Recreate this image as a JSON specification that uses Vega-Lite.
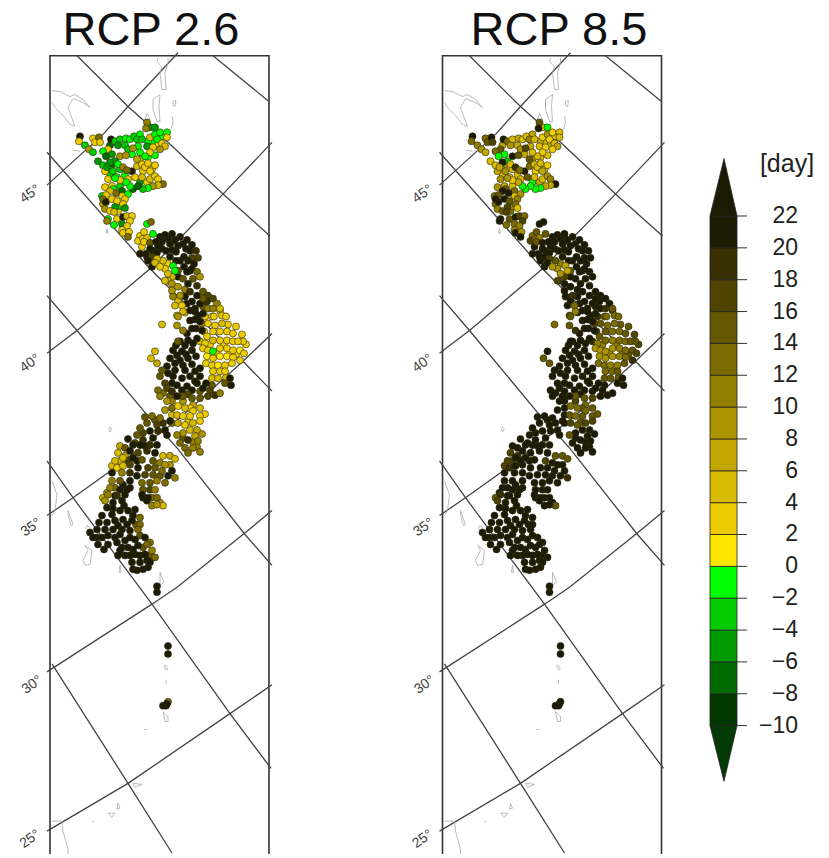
{"$schema":"https://vega.github.io/schema/vega-lite/v6.json","width":829,"height":858,"padding":0,"autosize":{"type":"fit","contains":"padding"},"background":"white","config":{"view":{"stroke":null},"text":{"font":"Liberation Sans"}},
"datasets":{
"frame":[{"i":0,"x":50,"y":858},{"i":1,"x":50,"y":56},{"i":2,"x":269,"y":56},{"i":3,"x":269,"y":858}],
"grat":[
{"id":"L1","i":0,"x":77,"y":56},{"id":"L1","i":1,"x":128,"y":107},{"id":"L1","i":2,"x":168,"y":143},{"id":"L1","i":3,"x":223,"y":195},{"id":"L1","i":4,"x":270,"y":237},
{"id":"L2","i":0,"x":213,"y":56},{"id":"L2","i":1,"x":269,"y":102},
{"id":"L3","i":0,"x":47,"y":153},{"id":"L3","i":1,"x":150,"y":270},{"id":"L3","i":2,"x":243,"y":363},{"id":"L3","i":3,"x":272,"y":393},
{"id":"L4","i":0,"x":47,"y":297},{"id":"L4","i":1,"x":77,"y":332},{"id":"L4","i":2,"x":148,"y":418},{"id":"L4","i":3,"x":177,"y":450},{"id":"L4","i":4,"x":245,"y":537},{"id":"L4","i":5,"x":272,"y":568},
{"id":"L5","i":0,"x":47,"y":463},{"id":"L5","i":1,"x":73,"y":500},{"id":"L5","i":2,"x":112,"y":553},{"id":"L5","i":3,"x":152,"y":607},{"id":"L5","i":4,"x":230,"y":717},{"id":"L5","i":5,"x":271,"y":772},
{"id":"L6","i":0,"x":52,"y":667},{"id":"L6","i":1,"x":128,"y":787},{"id":"L6","i":2,"x":172,"y":857},
{"id":"P1","i":0,"x":47,"y":186},{"id":"P1","i":1,"x":103,"y":135},{"id":"P1","i":2,"x":128,"y":107},{"id":"P1","i":3,"x":178,"y":53},
{"id":"P2","i":0,"x":47,"y":355},{"id":"P2","i":1,"x":77,"y":332},{"id":"P2","i":2,"x":103,"y":310},{"id":"P2","i":3,"x":150,"y":270},{"id":"P2","i":4,"x":223,"y":195},{"id":"P2","i":5,"x":272,"y":143},
{"id":"P3","i":0,"x":47,"y":518},{"id":"P3","i":1,"x":73,"y":500},{"id":"P3","i":2,"x":108,"y":475},{"id":"P3","i":3,"x":180,"y":420},{"id":"P3","i":4,"x":243,"y":363},{"id":"P3","i":5,"x":272,"y":335},
{"id":"P4","i":0,"x":47,"y":675},{"id":"P4","i":1,"x":152,"y":607},{"id":"P4","i":2,"x":177,"y":590},{"id":"P4","i":3,"x":243,"y":537},{"id":"P4","i":4,"x":272,"y":513},
{"id":"P5","i":0,"x":47,"y":835},{"id":"P5","i":1,"x":128,"y":787},{"id":"P5","i":2,"x":230,"y":717},{"id":"P5","i":3,"x":272,"y":688}],
"coast":[
{"id":"c1","i":0,"x":52,"y":91},{"id":"c1","i":1,"x":60,"y":92},{"id":"c1","i":2,"x":70,"y":97},{"id":"c1","i":3,"x":75,"y":95},{"id":"c1","i":4,"x":83,"y":100},{"id":"c1","i":5,"x":90,"y":108},{"id":"c1","i":6,"x":83,"y":103},{"id":"c1","i":7,"x":73,"y":99},{"id":"c1","i":8,"x":68,"y":108},{"id":"c1","i":9,"x":75,"y":127},{"id":"c1","i":10,"x":70,"y":125},{"id":"c1","i":11,"x":63,"y":116},{"id":"c1","i":12,"x":55,"y":108},{"id":"c1","i":13,"x":52,"y":103},
{"id":"c2","i":0,"x":158,"y":58},{"id":"c2","i":1,"x":157,"y":62},{"id":"c2","i":2,"x":162,"y":67},{"id":"c2","i":3,"x":160,"y":73},{"id":"c2","i":4,"x":162,"y":90},{"id":"c2","i":5,"x":166,"y":90},{"id":"c2","i":6,"x":165,"y":73},{"id":"c2","i":7,"x":168,"y":63},{"id":"c2","i":8,"x":168,"y":58},
{"id":"c3","i":0,"x":153,"y":100},{"id":"c3","i":1,"x":160,"y":95},{"id":"c3","i":2,"x":159,"y":107},{"id":"c3","i":3,"x":160,"y":122},{"id":"c3","i":4,"x":157,"y":122},{"id":"c3","i":5,"x":153,"y":110},{"id":"c3","i":6,"x":153,"y":100},
{"id":"c4","i":0,"x":173,"y":102},{"id":"c4","i":1,"x":176,"y":101},{"id":"c4","i":2,"x":175,"y":107},{"id":"c4","i":3,"x":173,"y":106},{"id":"c4","i":4,"x":173,"y":102},
{"id":"c5","i":0,"x":172,"y":117},{"id":"c5","i":1,"x":173,"y":123},{"id":"c5","i":2,"x":171,"y":130},
{"id":"c6","i":0,"x":147,"y":114},{"id":"c6","i":1,"x":150,"y":120},{"id":"c6","i":2,"x":145,"y":120},{"id":"c6","i":3,"x":147,"y":114},
{"id":"c7","i":0,"x":73,"y":151},{"id":"c7","i":1,"x":80,"y":152},
{"id":"c8","i":0,"x":107,"y":230},{"id":"c8","i":1,"x":108,"y":234},{"id":"c8","i":2,"x":106,"y":234},{"id":"c8","i":3,"x":107,"y":230},
{"id":"c9","i":0,"x":52,"y":483},{"id":"c9","i":1,"x":57,"y":497},{"id":"c9","i":2,"x":55,"y":513},{"id":"c9","i":3,"x":52,"y":518},
{"id":"c10","i":0,"x":68,"y":513},{"id":"c10","i":1,"x":73,"y":527},{"id":"c10","i":2,"x":71,"y":528},{"id":"c10","i":3,"x":68,"y":517},{"id":"c10","i":4,"x":68,"y":513},
{"id":"c11","i":0,"x":87,"y":528},{"id":"c11","i":1,"x":90,"y":530},{"id":"c11","i":2,"x":88,"y":533},{"id":"c11","i":3,"x":86,"y":531},{"id":"c11","i":4,"x":87,"y":528},
{"id":"c12","i":0,"x":85,"y":548},{"id":"c12","i":1,"x":92,"y":553},{"id":"c12","i":2,"x":90,"y":567},{"id":"c12","i":3,"x":85,"y":568},{"id":"c12","i":4,"x":83,"y":563},{"id":"c12","i":5,"x":88,"y":553},{"id":"c12","i":6,"x":85,"y":548},
{"id":"c13","i":0,"x":110,"y":429},{"id":"c13","i":1,"x":112,"y":431},{"id":"c13","i":2,"x":110,"y":434},{"id":"c13","i":3,"x":109,"y":431},{"id":"c13","i":4,"x":110,"y":429},
{"id":"c14","i":0,"x":120,"y":568},{"id":"c14","i":1,"x":121,"y":575},{"id":"c14","i":2,"x":119,"y":575},{"id":"c14","i":3,"x":120,"y":568},
{"id":"c15","i":0,"x":160,"y":575},{"id":"c15","i":1,"x":164,"y":585},{"id":"c15","i":2,"x":160,"y":588},{"id":"c15","i":3,"x":160,"y":575},
{"id":"c16","i":0,"x":165,"y":668},{"id":"c16","i":1,"x":168,"y":672},{"id":"c16","i":2,"x":166,"y":673},{"id":"c16","i":3,"x":164,"y":670},{"id":"c16","i":4,"x":165,"y":668},
{"id":"c17","i":0,"x":166,"y":683},{"id":"c17","i":1,"x":166,"y":687},
{"id":"c18","i":0,"x":163,"y":715},{"id":"c18","i":1,"x":168,"y":720},{"id":"c18","i":2,"x":168,"y":725},{"id":"c18","i":3,"x":165,"y":725},{"id":"c18","i":4,"x":163,"y":715},
{"id":"c19","i":0,"x":133,"y":787},{"id":"c19","i":1,"x":142,"y":788},{"id":"c19","i":2,"x":135,"y":791},{"id":"c19","i":3,"x":133,"y":787},
{"id":"c20","i":0,"x":108,"y":817},{"id":"c20","i":1,"x":115,"y":817},{"id":"c20","i":2,"x":112,"y":821},{"id":"c20","i":3,"x":108,"y":817},
{"id":"c21","i":0,"x":118,"y":807},{"id":"c21","i":1,"x":120,"y":812},{"id":"c21","i":2,"x":117,"y":813},{"id":"c21","i":3,"x":118,"y":807},
{"id":"c22","i":0,"x":52,"y":825},{"id":"c22","i":1,"x":62,"y":825},{"id":"c22","i":2,"x":63,"y":835},{"id":"c22","i":3,"x":68,"y":853},{"id":"c22","i":4,"x":68,"y":858},
{"id":"c23","i":0,"x":144,"y":733},{"id":"c23","i":1,"x":147,"y":733},
{"id":"c24","i":0,"x":92,"y":826},{"id":"c24","i":1,"x":94,"y":825}],
"deg":[{"x":30,"y":195,"t":"45°"},{"x":30,"y":365,"t":"40°"},{"x":31,"y":530,"t":"35°"},{"x":32,"y":688,"t":"30°"},{"x":30,"y":843,"t":"25°"}],
"titles":[{"x":151,"y":31,"t":"RCP 2.6"},{"x":559,"y":31,"t":"RCP 8.5"}],
"unit":[{"x":787,"y":165,"t":"[day]"}],
"bar":[{"lo":-10,"hi":-8},{"lo":-8,"hi":-6},{"lo":-6,"hi":-4},{"lo":-4,"hi":-2},{"lo":-2,"hi":0},{"lo":0,"hi":2},{"lo":2,"hi":4},{"lo":4,"hi":6},{"lo":6,"hi":8},{"lo":8,"hi":10},{"lo":10,"hi":12},{"lo":12,"hi":14},{"lo":14,"hi":16},{"lo":16,"hi":18},{"lo":18,"hi":20},{"lo":20,"hi":22}],
"tips":[{"x":710,"c":23,"y1":22,"y2":22},{"x":724,"c":23,"y1":25.6,"y2":22},{"x":737,"c":23,"y1":22,"y2":22},{"x":710,"c":-11,"y1":-10,"y2":-10},{"x":724,"c":-11,"y1":-13.5,"y2":-10},{"x":737,"c":-11,"y1":-10,"y2":-10}],
"ticks":[{"v":22,"t":"22"},{"v":20,"t":"20"},{"v":18,"t":"18"},{"v":16,"t":"16"},{"v":14,"t":"14"},{"v":12,"t":"12"},{"v":10,"t":"10"},{"v":8,"t":"8"},{"v":6,"t":"6"},{"v":4,"t":"4"},{"v":2,"t":"2"},{"v":0,"t":"0"},{"v":-2,"t":"−2"},{"v":-4,"t":"−4"},{"v":-6,"t":"−6"},{"v":-8,"t":"−8"},{"v":-10,"t":"−10"}],
"st":[
{"x":110,"y":146,"a":-7,"b":6},{"x":125,"y":146,"a":-3,"b":6},{"x":128,"y":150,"a":-3,"b":8},{"x":138,"y":147,"a":-2,"b":6},{"x":152,"y":143,"a":-1,"b":5},{"x":158,"y":146,"a":3,"b":6},{"x":113,"y":165,"a":-7,"b":8},{"x":120,"y":170,"a":-3,"b":5},{"x":110,"y":175,"a":-3,"b":4},{"x":117,"y":178,"a":-2,"b":5},{"x":125,"y":176,"a":-1,"b":4},{"x":112,"y":187,"a":3,"b":6},{"x":128,"y":180,"a":3,"b":4},{"x":140,"y":183,"a":-6,"b":-2},{"x":147,"y":183,"a":3,"b":6},{"x":150,"y":180,"a":5,"b":5},{"x":143,"y":172,"a":3,"b":3},{"x":142,"y":178,"a":4,"b":5},{"x":132,"y":155,"a":-2,"b":6},{"x":140,"y":160,"a":4,"b":8},{"x":148,"y":158,"a":-2,"b":4},{"x":152,"y":170,"a":3,"b":4},{"x":148,"y":142,"a":-1,"b":6},{"x":162,"y":137,"a":-1,"b":4},{"x":150,"y":128,"a":-6,"b":5},{"x":105,"y":188,"a":3,"b":8},{"x":113,"y":190,"a":-2,"b":14},{"x":103,"y":205,"a":8,"b":12},{"x":118,"y":212,"a":3,"b":12},{"x":120,"y":207,"a":-3,"b":8},
{"x":80,"y":137,"a":22,"b":22},{"x":79,"y":142,"a":3,"b":13},{"x":85,"y":146,"a":-3,"b":10},{"x":89,"y":150,"a":8,"b":9},{"x":93,"y":139,"a":3,"b":12},{"x":95,"y":143,"a":3,"b":14},{"x":99,"y":138,"a":12,"b":20},{"x":100,"y":143,"a":3,"b":16},{"x":93,"y":153,"a":-3,"b":6},{"x":98,"y":162,"a":-5,"b":5},{"x":103,"y":166,"a":-3,"b":5},{"x":105,"y":172,"a":2,"b":7},{"x":108,"y":180,"a":2,"b":8},{"x":111,"y":140,"a":22,"b":22},{"x":115,"y":142,"a":-4,"b":12},{"x":120,"y":140,"a":-3,"b":4},{"x":126,"y":139,"a":-2,"b":6},{"x":118,"y":146,"a":-5,"b":8},{"x":130,"y":140,"a":-2,"b":5},{"x":134,"y":137,"a":-3,"b":4},{"x":140,"y":135,"a":-2,"b":6},{"x":137,"y":140,"a":-3,"b":10},{"x":142,"y":140,"a":-4,"b":5},{"x":147,"y":123,"a":10,"b":14},{"x":146,"y":129,"a":10,"b":22},{"x":155,"y":128,"a":-6,"b":-1},{"x":150,"y":138,"a":5,"b":3},{"x":155,"y":135,"a":-1,"b":8},{"x":160,"y":133,"a":-1,"b":3},{"x":167,"y":133,"a":-1,"b":5},{"x":167,"y":138,"a":3,"b":4},{"x":157,"y":140,"a":-2,"b":3},{"x":162,"y":144,"a":3,"b":5},{"x":165,"y":147,"a":4,"b":7},{"x":147,"y":147,"a":-6,"b":4},{"x":153,"y":148,"a":3,"b":3},{"x":160,"y":150,"a":8,"b":3},{"x":155,"y":156,"a":-2,"b":4},{"x":150,"y":153,"a":3,"b":3},{"x":145,"y":157,"a":-1,"b":4},{"x":140,"y":153,"a":-1,"b":5},{"x":133,"y":149,"a":8,"b":16},{"x":108,"y":150,"a":3,"b":14},{"x":103,"y":152,"a":-2,"b":12},{"x":112,"y":155,"a":-6,"b":-2},{"x":106,"y":157,"a":-8,"b":-1},{"x":120,"y":157,"a":9,"b":22},{"x":126,"y":156,"a":8,"b":15},{"x":115,"y":162,"a":-5,"b":-3},{"x":110,"y":163,"a":-6,"b":22},{"x":118,"y":165,"a":-1,"b":4},{"x":123,"y":168,"a":10,"b":18},{"x":107,"y":168,"a":-5,"b":6},{"x":113,"y":172,"a":-3,"b":8},{"x":132,"y":172,"a":22,"b":22},{"x":127,"y":171,"a":12,"b":13},{"x":137,"y":167,"a":4,"b":12},{"x":137,"y":160,"a":6,"b":14},{"x":142,"y":165,"a":3,"b":4},{"x":145,"y":168,"a":3,"b":4},{"x":148,"y":164,"a":3,"b":4},{"x":155,"y":166,"a":3,"b":3},{"x":150,"y":172,"a":3,"b":6},{"x":155,"y":177,"a":3,"b":8},{"x":158,"y":180,"a":3,"b":10},{"x":163,"y":185,"a":12,"b":22},{"x":158,"y":186,"a":5,"b":6},{"x":153,"y":187,"a":8,"b":6},{"x":148,"y":189,"a":-1,"b":-1},{"x":143,"y":190,"a":-3,"b":-1},{"x":138,"y":187,"a":-7,"b":-1},{"x":133,"y":190,"a":-7,"b":-1},{"x":130,"y":187,"a":-2,"b":-2},{"x":135,"y":178,"a":3,"b":14},{"x":126,"y":183,"a":-1,"b":6},{"x":120,"y":187,"a":-4,"b":4},{"x":120,"y":181,"a":3,"b":3},{"x":115,"y":179,"a":-2,"b":8},{"x":122,"y":192,"a":-7,"b":13},{"x":128,"y":195,"a":-2,"b":8},{"x":122,"y":197,"a":3,"b":5},{"x":116,"y":194,"a":12,"b":22},{"x":110,"y":192,"a":5,"b":20},{"x":102,"y":197,"a":-3,"b":12},{"x":106,"y":196,"a":3,"b":14},{"x":103,"y":200,"a":12,"b":22},{"x":106,"y":203,"a":22,"b":22},{"x":112,"y":200,"a":3,"b":20},{"x":117,"y":202,"a":3,"b":14},{"x":125,"y":200,"a":3,"b":10},{"x":123,"y":205,"a":3,"b":12},{"x":115,"y":208,"a":-5,"b":16},{"x":125,"y":209,"a":-6,"b":5},{"x":105,"y":210,"a":9,"b":10},{"x":110,"y":212,"a":3,"b":14},{"x":114,"y":213,"a":4,"b":16},
{"x":108,"y":220,"a":-2,"b":22},{"x":107,"y":222,"a":10,"b":20},{"x":117,"y":220,"a":3,"b":14},{"x":123,"y":218,"a":22,"b":22},{"x":127,"y":217,"a":5,"b":16},{"x":132,"y":217,"a":3,"b":12},{"x":130,"y":222,"a":3,"b":16},{"x":114,"y":226,"a":-2,"b":12},{"x":122,"y":225,"a":-5,"b":12},{"x":127,"y":227,"a":3,"b":10},{"x":122,"y":231,"a":3,"b":10},{"x":123,"y":234,"a":3,"b":22},{"x":129,"y":233,"a":3,"b":8},{"x":128,"y":238,"a":12,"b":22},
{"x":147,"y":225,"a":-1,"b":22},{"x":151,"y":223,"a":12,"b":20},{"x":153,"y":235,"a":-1,"b":14},{"x":140,"y":237,"a":3,"b":12},{"x":144,"y":233,"a":3,"b":14},{"x":138,"y":242,"a":3,"b":16},{"x":143,"y":240,"a":3,"b":12},{"x":147,"y":239,"a":4,"b":10},{"x":142,"y":248,"a":3,"b":22},{"x":144,"y":243,"a":3,"b":14},
{"x":160,"y":238,"a":22,"b":22},{"x":168,"y":240,"a":22,"b":22},{"x":175,"y":241,"a":22,"b":22},{"x":183,"y":245,"a":20,"b":22},{"x":190,"y":252,"a":22,"b":22},{"x":192,"y":259,"a":16,"b":22},{"x":188,"y":262,"a":22,"b":22},{"x":180,"y":262,"a":22,"b":22},{"x":166,"y":252,"a":22,"b":22},{"x":172,"y":251,"a":20,"b":22},{"x":158,"y":247,"a":22,"b":22},{"x":153,"y":252,"a":20,"b":22},{"x":146,"y":255,"a":22,"b":22},{"x":150,"y":244,"a":14,"b":22},{"x":140,"y":255,"a":22,"b":22},{"x":152,"y":268,"a":22,"b":22},{"x":147,"y":258,"a":20,"b":22},
{"x":165,"y":236,"a":22,"b":22},{"x":172,"y":235,"a":21,"b":22},{"x":180,"y":238,"a":22,"b":22},{"x":187,"y":241,"a":21,"b":22},{"x":192,"y":246,"a":20,"b":22},{"x":196,"y":252,"a":18,"b":22},{"x":198,"y":259,"a":17,"b":22},{"x":194,"y":265,"a":21,"b":22},{"x":190,"y":272,"a":22,"b":22},{"x":184,"y":268,"a":22,"b":22},{"x":176,"y":262,"a":20,"b":22},{"x":170,"y":258,"a":22,"b":22},{"x":162,"y":250,"a":22,"b":22},{"x":157,"y":254,"a":20,"b":22},{"x":152,"y":258,"a":16,"b":22},{"x":148,"y":262,"a":22,"b":22},{"x":170,"y":245,"a":21,"b":22},{"x":178,"y":247,"a":22,"b":22},{"x":186,"y":250,"a":22,"b":22},{"x":184,"y":258,"a":22,"b":22},{"x":176,"y":253,"a":22,"b":22},{"x":162,"y":243,"a":20,"b":22},{"x":156,"y":243,"a":22,"b":22},{"x":150,"y":250,"a":22,"b":22},
{"x":168,"y":265,"a":3,"b":10},{"x":163,"y":262,"a":4,"b":14},{"x":178,"y":278,"a":20,"b":22},{"x":183,"y":280,"a":14,"b":22},{"x":172,"y":278,"a":5,"b":16},{"x":168,"y":282,"a":5,"b":14},{"x":178,"y":272,"a":14,"b":14},{"x":185,"y":291,"a":10,"b":22},{"x":190,"y":293,"a":18,"b":22},{"x":185,"y":298,"a":22,"b":22},{"x":187,"y":305,"a":22,"b":22},{"x":178,"y":302,"a":5,"b":20},{"x":185,"y":314,"a":5,"b":22},{"x":190,"y":312,"a":22,"b":22},{"x":203,"y":308,"a":14,"b":22},{"x":208,"y":310,"a":10,"b":20},{"x":205,"y":318,"a":3,"b":18},{"x":212,"y":318,"a":3,"b":14},{"x":200,"y":305,"a":22,"b":22},
{"x":173,"y":267,"a":-1,"b":6},{"x":175,"y":272,"a":-1,"b":6},{"x":157,"y":260,"a":4,"b":16},{"x":155,"y":264,"a":4,"b":20},{"x":165,"y":270,"a":3,"b":8},{"x":160,"y":268,"a":3,"b":9},{"x":168,"y":275,"a":4,"b":9},{"x":165,"y":282,"a":5,"b":16},{"x":172,"y":285,"a":9,"b":20},{"x":172,"y":292,"a":8,"b":20},{"x":178,"y":288,"a":8,"b":22},{"x":180,"y":297,"a":9,"b":18},{"x":173,"y":298,"a":10,"b":22},{"x":175,"y":307,"a":4,"b":22},{"x":182,"y":307,"a":3,"b":12},{"x":183,"y":313,"a":4,"b":10},{"x":177,"y":317,"a":4,"b":14},
{"x":187,"y":273,"a":20,"b":22},{"x":192,"y":270,"a":22,"b":22},{"x":197,"y":273,"a":13,"b":22},{"x":200,"y":278,"a":9,"b":22},{"x":193,"y":280,"a":14,"b":22},{"x":188,"y":285,"a":21,"b":22},{"x":197,"y":287,"a":18,"b":22},{"x":203,"y":293,"a":14,"b":22},{"x":208,"y":297,"a":17,"b":22},{"x":213,"y":300,"a":16,"b":22},{"x":217,"y":305,"a":10,"b":22},{"x":220,"y":312,"a":4,"b":16},{"x":222,"y":317,"a":3,"b":12},{"x":207,"y":303,"a":19,"b":22},{"x":213,"y":310,"a":10,"b":18},{"x":203,"y":300,"a":14,"b":22},{"x":197,"y":297,"a":22,"b":22},{"x":192,"y":303,"a":22,"b":22},{"x":195,"y":310,"a":22,"b":22},{"x":198,"y":317,"a":22,"b":22},
{"x":214,"y":318,"a":3,"b":13},{"x":226,"y":318,"a":3,"b":12},{"x":228,"y":326,"a":3,"b":14},{"x":236,"y":328,"a":3,"b":14},{"x":202,"y":325,"a":10,"b":16},{"x":226,"y":379,"a":4,"b":14},{"x":200,"y":343,"a":5,"b":18},{"x":204,"y":333,"a":3,"b":16},{"x":246,"y":346,"a":2,"b":16},{"x":243,"y":343,"a":2,"b":14},{"x":210,"y":346,"a":3,"b":10},{"x":224,"y":346,"a":2,"b":10},{"x":217,"y":355,"a":2,"b":8},{"x":230,"y":355,"a":2,"b":10},{"x":236,"y":356,"a":3,"b":14},{"x":206,"y":365,"a":3,"b":12},{"x":205,"y":345,"a":3,"b":10},
{"x":220,"y":310,"a":4,"b":14},{"x":208,"y":325,"a":3,"b":14},{"x":215,"y":327,"a":3,"b":13},{"x":222,"y":325,"a":4,"b":12},{"x":213,"y":333,"a":3,"b":14},{"x":220,"y":333,"a":3,"b":12},{"x":227,"y":333,"a":2,"b":13},{"x":233,"y":335,"a":3,"b":14},{"x":242,"y":336,"a":2,"b":16},{"x":207,"y":338,"a":3,"b":15},{"x":213,"y":342,"a":4,"b":12},{"x":220,"y":342,"a":3,"b":11},{"x":227,"y":342,"a":2,"b":12},{"x":233,"y":343,"a":2,"b":13},{"x":238,"y":343,"a":2,"b":14},{"x":203,"y":350,"a":2,"b":9},{"x":208,"y":352,"a":2,"b":8},{"x":220,"y":350,"a":2,"b":9},{"x":227,"y":350,"a":2,"b":10},{"x":233,"y":352,"a":2,"b":12},{"x":240,"y":352,"a":1,"b":14},{"x":244,"y":355,"a":2,"b":16},{"x":207,"y":358,"a":1,"b":9},{"x":213,"y":360,"a":2,"b":9},{"x":220,"y":358,"a":1,"b":8},{"x":227,"y":358,"a":1,"b":11},{"x":233,"y":359,"a":2,"b":12},{"x":240,"y":362,"a":2,"b":18},{"x":212,"y":367,"a":3,"b":12},{"x":218,"y":367,"a":1,"b":11},{"x":225,"y":367,"a":2,"b":10},{"x":232,"y":365,"a":3,"b":14},{"x":213,"y":373,"a":3,"b":13},{"x":220,"y":373,"a":2,"b":12},{"x":225,"y":373,"a":3,"b":14},{"x":212,"y":380,"a":5,"b":14},{"x":218,"y":380,"a":4,"b":14},{"x":212,"y":387,"a":14,"b":20},{"x":213,"y":353,"a":-1,"b":8},
{"x":195,"y":321,"a":22,"b":22},{"x":196,"y":330,"a":22,"b":22},{"x":187,"y":335,"a":22,"b":22},{"x":193,"y":345,"a":22,"b":22},{"x":176,"y":347,"a":22,"b":22},{"x":185,"y":347,"a":22,"b":22},{"x":177,"y":357,"a":22,"b":22},{"x":186,"y":356,"a":22,"b":22},{"x":196,"y":358,"a":20,"b":22},{"x":175,"y":365,"a":22,"b":22},{"x":183,"y":367,"a":22,"b":22},{"x":192,"y":366,"a":22,"b":22},{"x":200,"y":370,"a":22,"b":22},{"x":168,"y":375,"a":22,"b":22},{"x":195,"y":383,"a":22,"b":22},{"x":206,"y":385,"a":22,"b":22},{"x":225,"y":385,"a":14,"b":22},{"x":182,"y":392,"a":22,"b":22},{"x":192,"y":392,"a":22,"b":22},{"x":172,"y":385,"a":20,"b":22},{"x":200,"y":393,"a":14,"b":22},{"x":210,"y":392,"a":16,"b":22},{"x":188,"y":396,"a":16,"b":22},
{"x":195,"y":313,"a":22,"b":22},{"x":203,"y":315,"a":20,"b":22},{"x":190,"y":322,"a":22,"b":22},{"x":200,"y":323,"a":22,"b":22},{"x":192,"y":330,"a":22,"b":22},{"x":202,"y":332,"a":22,"b":22},{"x":197,"y":340,"a":22,"b":22},{"x":180,"y":343,"a":22,"b":22},{"x":188,"y":342,"a":22,"b":22},{"x":173,"y":352,"a":22,"b":22},{"x":182,"y":353,"a":22,"b":22},{"x":192,"y":352,"a":22,"b":22},{"x":170,"y":360,"a":22,"b":22},{"x":180,"y":362,"a":22,"b":22},{"x":188,"y":360,"a":22,"b":22},{"x":167,"y":368,"a":20,"b":22},{"x":175,"y":372,"a":22,"b":22},{"x":185,"y":372,"a":22,"b":22},{"x":195,"y":373,"a":22,"b":22},{"x":173,"y":378,"a":22,"b":22},{"x":182,"y":380,"a":22,"b":22},{"x":190,"y":378,"a":22,"b":22},{"x":200,"y":378,"a":22,"b":22},{"x":177,"y":387,"a":20,"b":22},{"x":187,"y":388,"a":22,"b":22},{"x":197,"y":385,"a":22,"b":22},{"x":203,"y":390,"a":22,"b":22},{"x":230,"y":380,"a":22,"b":22},{"x":231,"y":387,"a":22,"b":22},
{"x":160,"y":378,"a":14,"b":22},{"x":170,"y":398,"a":14,"b":22},{"x":163,"y":395,"a":12,"b":22},{"x":172,"y":403,"a":10,"b":22},{"x":183,"y":403,"a":8,"b":16},{"x":193,"y":407,"a":6,"b":12},{"x":200,"y":410,"a":5,"b":14},{"x":205,"y":416,"a":2,"b":14},{"x":190,"y":410,"a":3,"b":14},{"x":193,"y":413,"a":3,"b":12},{"x":172,"y":417,"a":5,"b":22},{"x":172,"y":425,"a":12,"b":22},{"x":188,"y":424,"a":4,"b":14},{"x":183,"y":440,"a":14,"b":22},{"x":202,"y":436,"a":8,"b":22},{"x":193,"y":444,"a":10,"b":22},{"x":185,"y":450,"a":12,"b":22},{"x":197,"y":449,"a":11,"b":22},
{"x":162,"y":326,"a":5,"b":12},{"x":178,"y":318,"a":8,"b":14},{"x":177,"y":327,"a":8,"b":14},{"x":183,"y":332,"a":10,"b":18},{"x":178,"y":343,"a":14,"b":22},{"x":155,"y":353,"a":5,"b":22},{"x":151,"y":360,"a":4,"b":14},{"x":157,"y":365,"a":6,"b":14},{"x":162,"y":372,"a":14,"b":22},{"x":165,"y":385,"a":16,"b":22},{"x":158,"y":392,"a":13,"b":22},{"x":160,"y":398,"a":10,"b":22},{"x":167,"y":390,"a":16,"b":22},{"x":172,"y":393,"a":18,"b":22},
{"x":183,"y":398,"a":14,"b":14},{"x":192,"y":400,"a":15,"b":14},{"x":200,"y":400,"a":14,"b":16},{"x":208,"y":398,"a":16,"b":20},{"x":215,"y":397,"a":18,"b":22},{"x":220,"y":395,"a":10,"b":22},{"x":177,"y":398,"a":22,"b":22},{"x":167,"y":403,"a":8,"b":22},{"x":165,"y":412,"a":8,"b":22},{"x":172,"y":410,"a":12,"b":22},{"x":178,"y":408,"a":3,"b":12},{"x":185,"y":410,"a":4,"b":12},{"x":177,"y":417,"a":5,"b":14},{"x":183,"y":418,"a":3,"b":12},{"x":190,"y":418,"a":3,"b":14},{"x":200,"y":418,"a":2,"b":14},{"x":200,"y":423,"a":2,"b":16},{"x":193,"y":425,"a":4,"b":16},{"x":185,"y":427,"a":3,"b":14},{"x":178,"y":425,"a":6,"b":16},{"x":190,"y":432,"a":5,"b":22},{"x":197,"y":432,"a":6,"b":22},{"x":183,"y":435,"a":8,"b":22},{"x":177,"y":437,"a":10,"b":14},{"x":195,"y":438,"a":7,"b":22},{"x":188,"y":442,"a":18,"b":22},{"x":198,"y":443,"a":10,"b":22},{"x":180,"y":445,"a":12,"b":22},{"x":193,"y":450,"a":11,"b":22},{"x":200,"y":454,"a":11,"b":22},{"x":188,"y":455,"a":12,"b":20},
{"x":145,"y":419,"a":14,"b":22},{"x":155,"y":422,"a":14,"b":22},{"x":163,"y":425,"a":18,"b":22},{"x":143,"y":435,"a":16,"b":22},{"x":135,"y":445,"a":16,"b":22},{"x":145,"y":448,"a":20,"b":22},{"x":133,"y":447,"a":20,"b":22},{"x":155,"y":455,"a":20,"b":22},{"x":125,"y":458,"a":6,"b":18},{"x":120,"y":463,"a":5,"b":16},{"x":128,"y":463,"a":16,"b":22},{"x":112,"y":468,"a":5,"b":16},{"x":137,"y":463,"a":22,"b":22},{"x":148,"y":470,"a":16,"b":22},{"x":160,"y":465,"a":10,"b":22},{"x":170,"y":467,"a":8,"b":22},{"x":130,"y":490,"a":22,"b":22},{"x":123,"y":487,"a":20,"b":22},{"x":115,"y":490,"a":12,"b":22},{"x":107,"y":495,"a":8,"b":20},{"x":137,"y":478,"a":22,"b":22},{"x":150,"y":492,"a":16,"b":22},{"x":160,"y":478,"a":14,"b":22},{"x":165,"y":485,"a":12,"b":22},{"x":143,"y":500,"a":22,"b":22},{"x":160,"y":505,"a":8,"b":22},{"x":152,"y":500,"a":12,"b":22},{"x":115,"y":498,"a":22,"b":22},{"x":122,"y":503,"a":22,"b":22},
{"x":152,"y":418,"a":12,"b":22},{"x":160,"y":420,"a":12,"b":22},{"x":170,"y":423,"a":22,"b":22},{"x":147,"y":425,"a":14,"b":22},{"x":157,"y":427,"a":16,"b":22},{"x":165,"y":432,"a":22,"b":22},{"x":140,"y":430,"a":14,"b":22},{"x":150,"y":433,"a":20,"b":22},{"x":158,"y":433,"a":18,"b":22},{"x":167,"y":437,"a":22,"b":22},{"x":137,"y":437,"a":14,"b":22},{"x":128,"y":441,"a":22,"b":22},{"x":143,"y":442,"a":18,"b":22},{"x":153,"y":440,"a":20,"b":22},{"x":120,"y":448,"a":6,"b":22},{"x":125,"y":450,"a":14,"b":22},{"x":140,"y":447,"a":20,"b":22},{"x":150,"y":447,"a":19,"b":22},{"x":157,"y":447,"a":22,"b":22},{"x":118,"y":455,"a":4,"b":16},{"x":130,"y":453,"a":22,"b":22},{"x":138,"y":455,"a":16,"b":22},{"x":147,"y":453,"a":18,"b":22},{"x":115,"y":463,"a":5,"b":16},{"x":123,"y":460,"a":5,"b":20},{"x":133,"y":460,"a":22,"b":22},{"x":142,"y":462,"a":14,"b":22},{"x":153,"y":463,"a":14,"b":16},{"x":163,"y":458,"a":5,"b":14},{"x":170,"y":458,"a":6,"b":14},{"x":175,"y":461,"a":4,"b":14},{"x":117,"y":470,"a":3,"b":18},{"x":123,"y":468,"a":5,"b":22},{"x":130,"y":467,"a":16,"b":22},{"x":138,"y":470,"a":22,"b":22},{"x":155,"y":470,"a":15,"b":22},{"x":165,"y":467,"a":8,"b":22},{"x":172,"y":473,"a":22,"b":22},{"x":112,"y":475,"a":22,"b":22},{"x":122,"y":475,"a":10,"b":22},{"x":130,"y":475,"a":18,"b":22},{"x":145,"y":477,"a":16,"b":22},{"x":153,"y":477,"a":14,"b":22},{"x":162,"y":473,"a":12,"b":22},{"x":168,"y":478,"a":20,"b":22},{"x":175,"y":480,"a":10,"b":18},{"x":112,"y":483,"a":10,"b":22},{"x":120,"y":483,"a":14,"b":22},{"x":130,"y":483,"a":22,"b":22},{"x":142,"y":485,"a":12,"b":22},{"x":150,"y":485,"a":14,"b":22},{"x":157,"y":483,"a":11,"b":22},{"x":110,"y":490,"a":10,"b":20},{"x":120,"y":492,"a":22,"b":22},{"x":127,"y":492,"a":22,"b":22},{"x":143,"y":492,"a":14,"b":22},{"x":155,"y":492,"a":11,"b":22},{"x":103,"y":500,"a":6,"b":14},{"x":108,"y":497,"a":10,"b":18},{"x":117,"y":498,"a":18,"b":22},{"x":125,"y":497,"a":22,"b":22},{"x":142,"y":497,"a":20,"b":22},{"x":148,"y":500,"a":22,"b":22},{"x":157,"y":500,"a":12,"b":22},{"x":105,"y":503,"a":9,"b":16},{"x":113,"y":505,"a":22,"b":22},{"x":147,"y":503,"a":22,"b":22},{"x":152,"y":508,"a":10,"b":22},{"x":163,"y":508,"a":5,"b":14},{"x":157,"y":507,"a":9,"b":22},
{"x":113,"y":511,"a":22,"b":22},{"x":124,"y":508,"a":22,"b":22},{"x":133,"y":518,"a":20,"b":22},{"x":118,"y":528,"a":22,"b":22},{"x":127,"y":527,"a":22,"b":22},{"x":136,"y":527,"a":14,"b":22},{"x":99,"y":525,"a":22,"b":22},{"x":90,"y":535,"a":22,"b":22},{"x":97,"y":540,"a":22,"b":22},{"x":108,"y":538,"a":22,"b":22},{"x":120,"y":537,"a":22,"b":22},{"x":130,"y":540,"a":22,"b":22},{"x":140,"y":538,"a":14,"b":22},{"x":104,"y":552,"a":22,"b":22},{"x":122,"y":550,"a":22,"b":22},{"x":133,"y":552,"a":22,"b":22},{"x":143,"y":550,"a":14,"b":22},{"x":150,"y":545,"a":12,"b":22},{"x":130,"y":558,"a":22,"b":22},{"x":140,"y":558,"a":22,"b":22},{"x":150,"y":558,"a":14,"b":22},{"x":120,"y":553,"a":22,"b":22},{"x":143,"y":572,"a":22,"b":22},{"x":155,"y":560,"a":12,"b":22},{"x":147,"y":563,"a":22,"b":22},{"x":133,"y":572,"a":22,"b":22},
{"x":107,"y":510,"a":22,"b":22},{"x":112,"y":517,"a":22,"b":22},{"x":102,"y":518,"a":22,"b":22},{"x":120,"y":513,"a":22,"b":22},{"x":128,"y":513,"a":20,"b":22},{"x":135,"y":512,"a":20,"b":22},{"x":140,"y":520,"a":12,"b":22},{"x":107,"y":525,"a":22,"b":22},{"x":115,"y":523,"a":22,"b":22},{"x":123,"y":522,"a":22,"b":22},{"x":132,"y":523,"a":20,"b":22},{"x":140,"y":527,"a":12,"b":22},{"x":97,"y":532,"a":22,"b":22},{"x":105,"y":532,"a":22,"b":22},{"x":113,"y":532,"a":22,"b":22},{"x":122,"y":532,"a":22,"b":22},{"x":130,"y":533,"a":22,"b":22},{"x":138,"y":532,"a":12,"b":22},{"x":93,"y":540,"a":22,"b":22},{"x":102,"y":540,"a":22,"b":22},{"x":115,"y":540,"a":22,"b":22},{"x":125,"y":543,"a":22,"b":22},{"x":135,"y":542,"a":22,"b":22},{"x":145,"y":540,"a":22,"b":22},{"x":98,"y":547,"a":22,"b":22},{"x":108,"y":547,"a":22,"b":22},{"x":117,"y":545,"a":22,"b":22},{"x":128,"y":550,"a":22,"b":22},{"x":138,"y":548,"a":22,"b":22},{"x":147,"y":547,"a":12,"b":22},{"x":125,"y":558,"a":22,"b":22},{"x":118,"y":558,"a":22,"b":22},{"x":135,"y":557,"a":22,"b":22},{"x":145,"y":557,"a":22,"b":22},{"x":152,"y":553,"a":11,"b":20},{"x":132,"y":565,"a":22,"b":22},{"x":140,"y":565,"a":22,"b":22},{"x":150,"y":565,"a":22,"b":22},{"x":137,"y":573,"a":22,"b":22},{"x":148,"y":570,"a":22,"b":22},
{"x":157,"y":589,"a":22,"b":22},{"x":157,"y":595,"a":22,"b":22},{"x":168,"y":649,"a":22,"b":22},{"x":168,"y":657,"a":22,"b":22},{"x":168,"y":705,"a":12,"b":22},{"x":167,"y":707,"a":22,"b":22},{"x":166,"y":709,"a":22,"b":22},{"x":163,"y":709,"a":22,"b":22}]},
"resolve":{"scale":{"x":"independent","y":"independent"}},
"layer":[
{"data":{"name":"frame"},"mark":{"type":"line","color":"#333","strokeWidth":1.6},"encoding":{"x":{"field":"x","type":"quantitative","axis":null,"scale":{"domain":[0,829],"nice":false,"zero":false}},"y":{"field":"y","type":"quantitative","axis":null,"scale":{"domain":[858,0],"nice":false,"zero":false}},"order":{"field":"i"}}},
{"data":{"name":"frame"},"mark":{"type":"line","color":"#333","strokeWidth":1.6},"encoding":{"x":{"field":"x","type":"quantitative","axis":null,"scale":{"domain":[-392.5,436.5],"nice":false,"zero":false}},"y":{"field":"y","type":"quantitative","axis":null,"scale":{"domain":[858,0],"nice":false,"zero":false}},"order":{"field":"i"}}},
{"data":{"name":"grat"},"mark":{"type":"line","color":"#444","strokeWidth":1.3},"encoding":{"x":{"field":"x","type":"quantitative","axis":null,"scale":{"domain":[0,829],"nice":false,"zero":false}},"y":{"field":"y","type":"quantitative","axis":null,"scale":{"domain":[858,0],"nice":false,"zero":false}},"detail":{"field":"id"},"order":{"field":"i"}}},
{"data":{"name":"grat"},"mark":{"type":"line","color":"#444","strokeWidth":1.3},"encoding":{"x":{"field":"x","type":"quantitative","axis":null,"scale":{"domain":[-392.5,436.5],"nice":false,"zero":false}},"y":{"field":"y","type":"quantitative","axis":null,"scale":{"domain":[858,0],"nice":false,"zero":false}},"detail":{"field":"id"},"order":{"field":"i"}}},
{"data":{"name":"coast"},"mark":{"type":"line","color":"#aaa","strokeWidth":0.8},"encoding":{"x":{"field":"x","type":"quantitative","axis":null,"scale":{"domain":[0,829],"nice":false,"zero":false}},"y":{"field":"y","type":"quantitative","axis":null,"scale":{"domain":[858,0],"nice":false,"zero":false}},"detail":{"field":"id"},"order":{"field":"i"}}},
{"data":{"name":"coast"},"mark":{"type":"line","color":"#aaa","strokeWidth":0.8},"encoding":{"x":{"field":"x","type":"quantitative","axis":null,"scale":{"domain":[-392.5,436.5],"nice":false,"zero":false}},"y":{"field":"y","type":"quantitative","axis":null,"scale":{"domain":[858,0],"nice":false,"zero":false}},"detail":{"field":"id"},"order":{"field":"i"}}},
{"data":{"name":"st"},"mark":{"type":"point","filled":true,"size":50,"opacity":1,"stroke":"#2a2a10","strokeWidth":0.6},"encoding":{"x":{"field":"x","type":"quantitative","axis":null,"scale":{"domain":[0,829],"nice":false,"zero":false}},"y":{"field":"y","type":"quantitative","axis":null,"scale":{"domain":[858,0],"nice":false,"zero":false}},"fill":{"field":"a","type":"quantitative","legend":null,"scale":{"type":"threshold","domain":[-10,-8,-6,-4,-2,0,2,4,6,8,10,12,14,16,18,20,22],"range":["#033a06","#003800","#006a00","#009a00","#00cc00","#00ff00","#ffe600","#eccb00","#d8bb00","#c2a700","#ab9400","#948000","#7b6b00","#645700","#4e4400","#383000","#1e1b04","#1e1b04"]}}}},
{"data":{"name":"st"},"mark":{"type":"point","filled":true,"size":50,"opacity":1,"stroke":"#2a2a10","strokeWidth":0.6},"encoding":{"x":{"field":"x","type":"quantitative","axis":null,"scale":{"domain":[-392.5,436.5],"nice":false,"zero":false}},"y":{"field":"y","type":"quantitative","axis":null,"scale":{"domain":[858,0],"nice":false,"zero":false}},"fill":{"field":"b","type":"quantitative","legend":null,"scale":{"type":"threshold","domain":[-10,-8,-6,-4,-2,0,2,4,6,8,10,12,14,16,18,20,22],"range":["#033a06","#003800","#006a00","#009a00","#00cc00","#00ff00","#ffe600","#eccb00","#d8bb00","#c2a700","#ab9400","#948000","#7b6b00","#645700","#4e4400","#383000","#1e1b04","#1e1b04"]}}}},
{"data":{"name":"deg"},"mark":{"type":"text","angle":325,"fontSize":14,"color":"#444"},"encoding":{"x":{"field":"x","type":"quantitative","axis":null,"scale":{"domain":[0,829],"nice":false,"zero":false}},"y":{"field":"y","type":"quantitative","axis":null,"scale":{"domain":[858,0],"nice":false,"zero":false}},"text":{"field":"t"}}},
{"data":{"name":"deg"},"mark":{"type":"text","angle":325,"fontSize":14,"color":"#444"},"encoding":{"x":{"field":"x","type":"quantitative","axis":null,"scale":{"domain":[-392.5,436.5],"nice":false,"zero":false}},"y":{"field":"y","type":"quantitative","axis":null,"scale":{"domain":[858,0],"nice":false,"zero":false}},"text":{"field":"t"}}},
{"data":{"name":"titles"},"mark":{"type":"text","fontSize":47,"color":"#111"},"encoding":{"x":{"field":"x","type":"quantitative","axis":null,"scale":{"domain":[0,829],"nice":false,"zero":false}},"y":{"field":"y","type":"quantitative","axis":null,"scale":{"domain":[858,0],"nice":false,"zero":false}},"text":{"field":"t"}}},
{"data":{"name":"unit"},"mark":{"type":"text","fontSize":25,"color":"#222"},"encoding":{"x":{"field":"x","type":"quantitative","axis":null,"scale":{"domain":[0,829],"nice":false,"zero":false}},"y":{"field":"y","type":"quantitative","axis":null,"scale":{"domain":[858,0],"nice":false,"zero":false}},"text":{"field":"t"}}},
{"data":{"name":"bar"},"mark":{"type":"rect","stroke":"#222","strokeWidth":0.8},"encoding":{"x":{"datum":710,"type":"quantitative","axis":null,"scale":{"domain":[0,829],"nice":false,"zero":false}},"x2":{"datum":737},"y":{"field":"lo","type":"quantitative","axis":null,"scale":{"domain":[-18.0625,35.5625],"nice":false,"zero":false}},"y2":{"field":"hi"},"fill":{"field":"lo","type":"quantitative","legend":null,"scale":{"type":"threshold","domain":[-10,-8,-6,-4,-2,0,2,4,6,8,10,12,14,16,18,20,22],"range":["#033a06","#003800","#006a00","#009a00","#00cc00","#00ff00","#ffe600","#eccb00","#d8bb00","#c2a700","#ab9400","#948000","#7b6b00","#645700","#4e4400","#383000","#1e1b04","#1e1b04"]}}}},
{"data":{"name":"tips"},"mark":{"type":"area","orient":"vertical","stroke":"#222","strokeWidth":0.8},"encoding":{"x":{"field":"x","type":"quantitative","axis":null,"scale":{"domain":[0,829],"nice":false,"zero":false}},"y":{"field":"y1","type":"quantitative","axis":null,"stack":null,"scale":{"domain":[-18.0625,35.5625],"nice":false,"zero":false}},"y2":{"field":"y2"},"fill":{"field":"c","type":"quantitative","legend":null,"scale":{"type":"threshold","domain":[-10,-8,-6,-4,-2,0,2,4,6,8,10,12,14,16,18,20,22],"range":["#033a06","#003800","#006a00","#009a00","#00cc00","#00ff00","#ffe600","#eccb00","#d8bb00","#c2a700","#ab9400","#948000","#7b6b00","#645700","#4e4400","#383000","#1e1b04","#1e1b04"]}}}},
{"data":{"name":"ticks"},"mark":{"type":"rule","color":"#333","strokeWidth":1},"encoding":{"x":{"datum":737,"type":"quantitative","axis":null,"scale":{"domain":[0,829],"nice":false,"zero":false}},"x2":{"datum":747},"y":{"field":"v","type":"quantitative","axis":null,"scale":{"domain":[-18.0625,35.5625],"nice":false,"zero":false}}}},
{"data":{"name":"ticks"},"mark":{"type":"text","align":"right","fontSize":23,"color":"#222"},"encoding":{"x":{"datum":798,"type":"quantitative","axis":null,"scale":{"domain":[0,829],"nice":false,"zero":false}},"y":{"field":"v","type":"quantitative","axis":null,"scale":{"domain":[-18.0625,35.5625],"nice":false,"zero":false}},"text":{"field":"t"}}}
]}
